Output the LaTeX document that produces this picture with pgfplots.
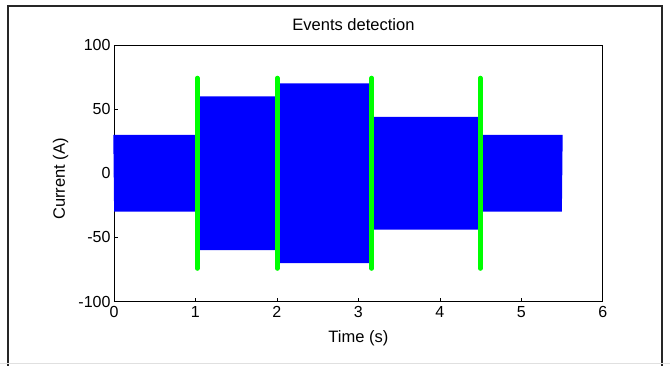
\documentclass[border=0pt]{standalone}
\usepackage{fontspec}
\setmainfont{Liberation Sans}
\usepackage{pgfplots}
\pgfplotsset{compat=1.18}
\definecolor{mblue}{RGB}{0,0,255}
\definecolor{mgreen}{RGB}{0,255,0}
\begin{document}
\begin{tikzpicture}
\begin{axis}[
  at={(0pt,0pt)}, anchor=south west,
  scale only axis, width=488.7pt, height=256.5pt,
  xmin=0, xmax=6, ymin=-100, ymax=100,
  xtick={0,1,2,3,4,5,6}, ytick={-100,-50,0,50,100},
  xtick pos=bottom, ytick pos=left,
  tick align=inside, major tick length=4pt,
  axis line style={line width=0.8pt},
  every tick/.style={black,line width=0.6pt},
  /pgf/number format/assume math mode=true,
  font=\fontsize{16}{19}\selectfont,
  xticklabel style={yshift=-1.5pt},
  title={Events detection},
  title style={at={(axis description cs:0.49,1.035)},anchor=base,font=\fontsize{16.5}{19}\selectfont},
  xlabel={Time (s)},
  xlabel style={at={(axis description cs:0.5,-0.1598)},anchor=base,font=\fontsize{16.5}{19}\selectfont},
  ylabel={Current (A)},
  ylabel style={at={(axis description cs:-0.1003,0.478)},anchor=base,font=\fontsize{16.5}{19}\selectfont},
  clip=false,
]
\addplot[mblue,line width=1.4pt] coordinates {
(0.00,30)(0.01,-30)(0.02,30)(0.03,-30)(0.04,30)(0.05,-30)(0.06,30)(0.07,-30)(0.08,30)(0.09,-30)
(0.10,30)(0.11,-30)(0.12,30)(0.13,-30)(0.14,30)(0.15,-30)(0.16,30)(0.17,-30)(0.18,30)(0.19,-30)
(0.20,30)(0.21,-30)(0.22,30)(0.23,-30)(0.24,30)(0.25,-30)(0.26,30)(0.27,-30)(0.28,30)(0.29,-30)
(0.30,30)(0.31,-30)(0.32,30)(0.33,-30)(0.34,30)(0.35,-30)(0.36,30)(0.37,-30)(0.38,30)(0.39,-30)
(0.40,30)(0.41,-30)(0.42,30)(0.43,-30)(0.44,30)(0.45,-30)(0.46,30)(0.47,-30)(0.48,30)(0.49,-30)
(0.50,30)(0.51,-30)(0.52,30)(0.53,-30)(0.54,30)(0.55,-30)(0.56,30)(0.57,-30)(0.58,30)(0.59,-30)
(0.60,30)(0.61,-30)(0.62,30)(0.63,-30)(0.64,30)(0.65,-30)(0.66,30)(0.67,-30)(0.68,30)(0.69,-30)
(0.70,30)(0.71,-30)(0.72,30)(0.73,-30)(0.74,30)(0.75,-30)(0.76,30)(0.77,-30)(0.78,30)(0.79,-30)
(0.80,30)(0.81,-30)(0.82,30)(0.83,-30)(0.84,30)(0.85,-30)(0.86,30)(0.87,-30)(0.88,30)(0.89,-30)
(0.90,30)(0.91,-30)(0.92,30)(0.93,-30)(0.94,30)(0.95,-30)(0.96,30)(0.97,-30)(0.98,30)(0.99,-30)
(1.00,30)
};
\addplot[mblue,line width=1.4pt] coordinates {
(1.01,-60)(1.02,60)(1.03,-60)(1.04,60)(1.05,-60)(1.06,60)(1.07,-60)(1.08,60)(1.09,-60)
(1.10,60)(1.11,-60)(1.12,60)(1.13,-60)(1.14,60)(1.15,-60)(1.16,60)(1.17,-60)(1.18,60)(1.19,-60)
(1.20,60)(1.21,-60)(1.22,60)(1.23,-60)(1.24,60)(1.25,-60)(1.26,60)(1.27,-60)(1.28,60)(1.29,-60)
(1.30,60)(1.31,-60)(1.32,60)(1.33,-60)(1.34,60)(1.35,-60)(1.36,60)(1.37,-60)(1.38,60)(1.39,-60)
(1.40,60)(1.41,-60)(1.42,60)(1.43,-60)(1.44,60)(1.45,-60)(1.46,60)(1.47,-60)(1.48,60)(1.49,-60)
(1.50,60)(1.51,-60)(1.52,60)(1.53,-60)(1.54,60)(1.55,-60)(1.56,60)(1.57,-60)(1.58,60)(1.59,-60)
(1.60,60)(1.61,-60)(1.62,60)(1.63,-60)(1.64,60)(1.65,-60)(1.66,60)(1.67,-60)(1.68,60)(1.69,-60)
(1.70,60)(1.71,-60)(1.72,60)(1.73,-60)(1.74,60)(1.75,-60)(1.76,60)(1.77,-60)(1.78,60)(1.79,-60)
(1.80,60)(1.81,-60)(1.82,60)(1.83,-60)(1.84,60)(1.85,-60)(1.86,60)(1.87,-60)(1.88,60)(1.89,-60)
(1.90,60)(1.91,-60)(1.92,60)(1.93,-60)(1.94,60)(1.95,-60)(1.96,60)(1.97,-60)(1.98,60)(1.99,-60)
(2.00,60)
};
\addplot[mblue,line width=1.4pt] coordinates {
(2.01,-70)(2.02,70)(2.03,-70)(2.04,70)(2.05,-70)(2.06,70)(2.07,-70)(2.08,70)(2.09,-70)
(2.10,70)(2.11,-70)(2.12,70)(2.13,-70)(2.14,70)(2.15,-70)(2.16,70)(2.17,-70)(2.18,70)(2.19,-70)
(2.20,70)(2.21,-70)(2.22,70)(2.23,-70)(2.24,70)(2.25,-70)(2.26,70)(2.27,-70)(2.28,70)(2.29,-70)
(2.30,70)(2.31,-70)(2.32,70)(2.33,-70)(2.34,70)(2.35,-70)(2.36,70)(2.37,-70)(2.38,70)(2.39,-70)
(2.40,70)(2.41,-70)(2.42,70)(2.43,-70)(2.44,70)(2.45,-70)(2.46,70)(2.47,-70)(2.48,70)(2.49,-70)
(2.50,70)(2.51,-70)(2.52,70)(2.53,-70)(2.54,70)(2.55,-70)(2.56,70)(2.57,-70)(2.58,70)(2.59,-70)
(2.60,70)(2.61,-70)(2.62,70)(2.63,-70)(2.64,70)(2.65,-70)(2.66,70)(2.67,-70)(2.68,70)(2.69,-70)
(2.70,70)(2.71,-70)(2.72,70)(2.73,-70)(2.74,70)(2.75,-70)(2.76,70)(2.77,-70)(2.78,70)(2.79,-70)
(2.80,70)(2.81,-70)(2.82,70)(2.83,-70)(2.84,70)(2.85,-70)(2.86,70)(2.87,-70)(2.88,70)(2.89,-70)
(2.90,70)(2.91,-70)(2.92,70)(2.93,-70)(2.94,70)(2.95,-70)(2.96,70)(2.97,-70)(2.98,70)(2.99,-70)
(3.00,70)(3.01,-70)(3.02,70)(3.03,-70)(3.04,70)(3.05,-70)(3.06,70)(3.07,-70)(3.08,70)(3.09,-70)
(3.10,70)(3.11,-70)(3.12,70)(3.13,-70)(3.14,70)(3.15,-70)
};
\addplot[mblue,line width=1.4pt] coordinates {
(3.16,44)(3.17,-44)(3.18,44)(3.19,-44)
(3.20,44)(3.21,-44)(3.22,44)(3.23,-44)(3.24,44)(3.25,-44)(3.26,44)(3.27,-44)(3.28,44)(3.29,-44)
(3.30,44)(3.31,-44)(3.32,44)(3.33,-44)(3.34,44)(3.35,-44)(3.36,44)(3.37,-44)(3.38,44)(3.39,-44)
(3.40,44)(3.41,-44)(3.42,44)(3.43,-44)(3.44,44)(3.45,-44)(3.46,44)(3.47,-44)(3.48,44)(3.49,-44)
(3.50,44)(3.51,-44)(3.52,44)(3.53,-44)(3.54,44)(3.55,-44)(3.56,44)(3.57,-44)(3.58,44)(3.59,-44)
(3.60,44)(3.61,-44)(3.62,44)(3.63,-44)(3.64,44)(3.65,-44)(3.66,44)(3.67,-44)(3.68,44)(3.69,-44)
(3.70,44)(3.71,-44)(3.72,44)(3.73,-44)(3.74,44)(3.75,-44)(3.76,44)(3.77,-44)(3.78,44)(3.79,-44)
(3.80,44)(3.81,-44)(3.82,44)(3.83,-44)(3.84,44)(3.85,-44)(3.86,44)(3.87,-44)(3.88,44)(3.89,-44)
(3.90,44)(3.91,-44)(3.92,44)(3.93,-44)(3.94,44)(3.95,-44)(3.96,44)(3.97,-44)(3.98,44)(3.99,-44)
(4.00,44)(4.01,-44)(4.02,44)(4.03,-44)(4.04,44)(4.05,-44)(4.06,44)(4.07,-44)(4.08,44)(4.09,-44)
(4.10,44)(4.11,-44)(4.12,44)(4.13,-44)(4.14,44)(4.15,-44)(4.16,44)(4.17,-44)(4.18,44)(4.19,-44)
(4.20,44)(4.21,-44)(4.22,44)(4.23,-44)(4.24,44)(4.25,-44)(4.26,44)(4.27,-44)(4.28,44)(4.29,-44)
(4.30,44)(4.31,-44)(4.32,44)(4.33,-44)(4.34,44)(4.35,-44)(4.36,44)(4.37,-44)(4.38,44)(4.39,-44)
(4.40,44)(4.41,-44)(4.42,44)(4.43,-44)(4.44,44)(4.45,-44)(4.46,44)(4.47,-44)(4.48,44)(4.49,-44)
(4.50,44)
};
\addplot[mblue,line width=1.4pt] coordinates {
(4.51,-30)(4.52,30)(4.53,-30)(4.54,30)(4.55,-30)(4.56,30)(4.57,-30)(4.58,30)(4.59,-30)
(4.60,30)(4.61,-30)(4.62,30)(4.63,-30)(4.64,30)(4.65,-30)(4.66,30)(4.67,-30)(4.68,30)(4.69,-30)
(4.70,30)(4.71,-30)(4.72,30)(4.73,-30)(4.74,30)(4.75,-30)(4.76,30)(4.77,-30)(4.78,30)(4.79,-30)
(4.80,30)(4.81,-30)(4.82,30)(4.83,-30)(4.84,30)(4.85,-30)(4.86,30)(4.87,-30)(4.88,30)(4.89,-30)
(4.90,30)(4.91,-30)(4.92,30)(4.93,-30)(4.94,30)(4.95,-30)(4.96,30)(4.97,-30)(4.98,30)(4.99,-30)
(5.00,30)(5.01,-30)(5.02,30)(5.03,-30)(5.04,30)(5.05,-30)(5.06,30)(5.07,-30)(5.08,30)(5.09,-30)
(5.10,30)(5.11,-30)(5.12,30)(5.13,-30)(5.14,30)(5.15,-30)(5.16,30)(5.17,-30)(5.18,30)(5.19,-30)
(5.20,30)(5.21,-30)(5.22,30)(5.23,-30)(5.24,30)(5.25,-30)(5.26,30)(5.27,-30)(5.28,30)(5.29,-30)
(5.30,30)(5.31,-30)(5.32,30)(5.33,-30)(5.34,30)(5.35,-30)(5.36,30)(5.37,-30)(5.38,30)(5.39,-30)
(5.40,30)(5.41,-30)(5.42,30)(5.43,-30)(5.44,30)(5.45,-30)(5.46,30)(5.47,-30)(5.48,30)(5.49,-30)
(5.50,30)
};
\addplot[mgreen,line width=4.5pt,line cap=round] coordinates {(1.023,-74.3)(1.023,74.3)};
\addplot[mgreen,line width=4.5pt,line cap=round] coordinates {(2.005,-74.3)(2.005,74.3)};
\addplot[mgreen,line width=4.5pt,line cap=round] coordinates {(3.164,-74.3)(3.164,74.3)};
\addplot[mgreen,line width=4.5pt,line cap=round] coordinates {(4.498,-74.3)(4.498,74.3)};
\end{axis}
\draw[black!85,line width=1.6pt] (-106pt,295.5pt) rectangle (548pt,-80pt);
\draw[black!12,line width=1pt] (-114pt,-62pt) -- (556pt,-62pt);
\pgfresetboundingbox
\path[use as bounding box] (-114pt,-63.5pt) rectangle (556pt,301.5pt);
\end{tikzpicture}
\end{document}
